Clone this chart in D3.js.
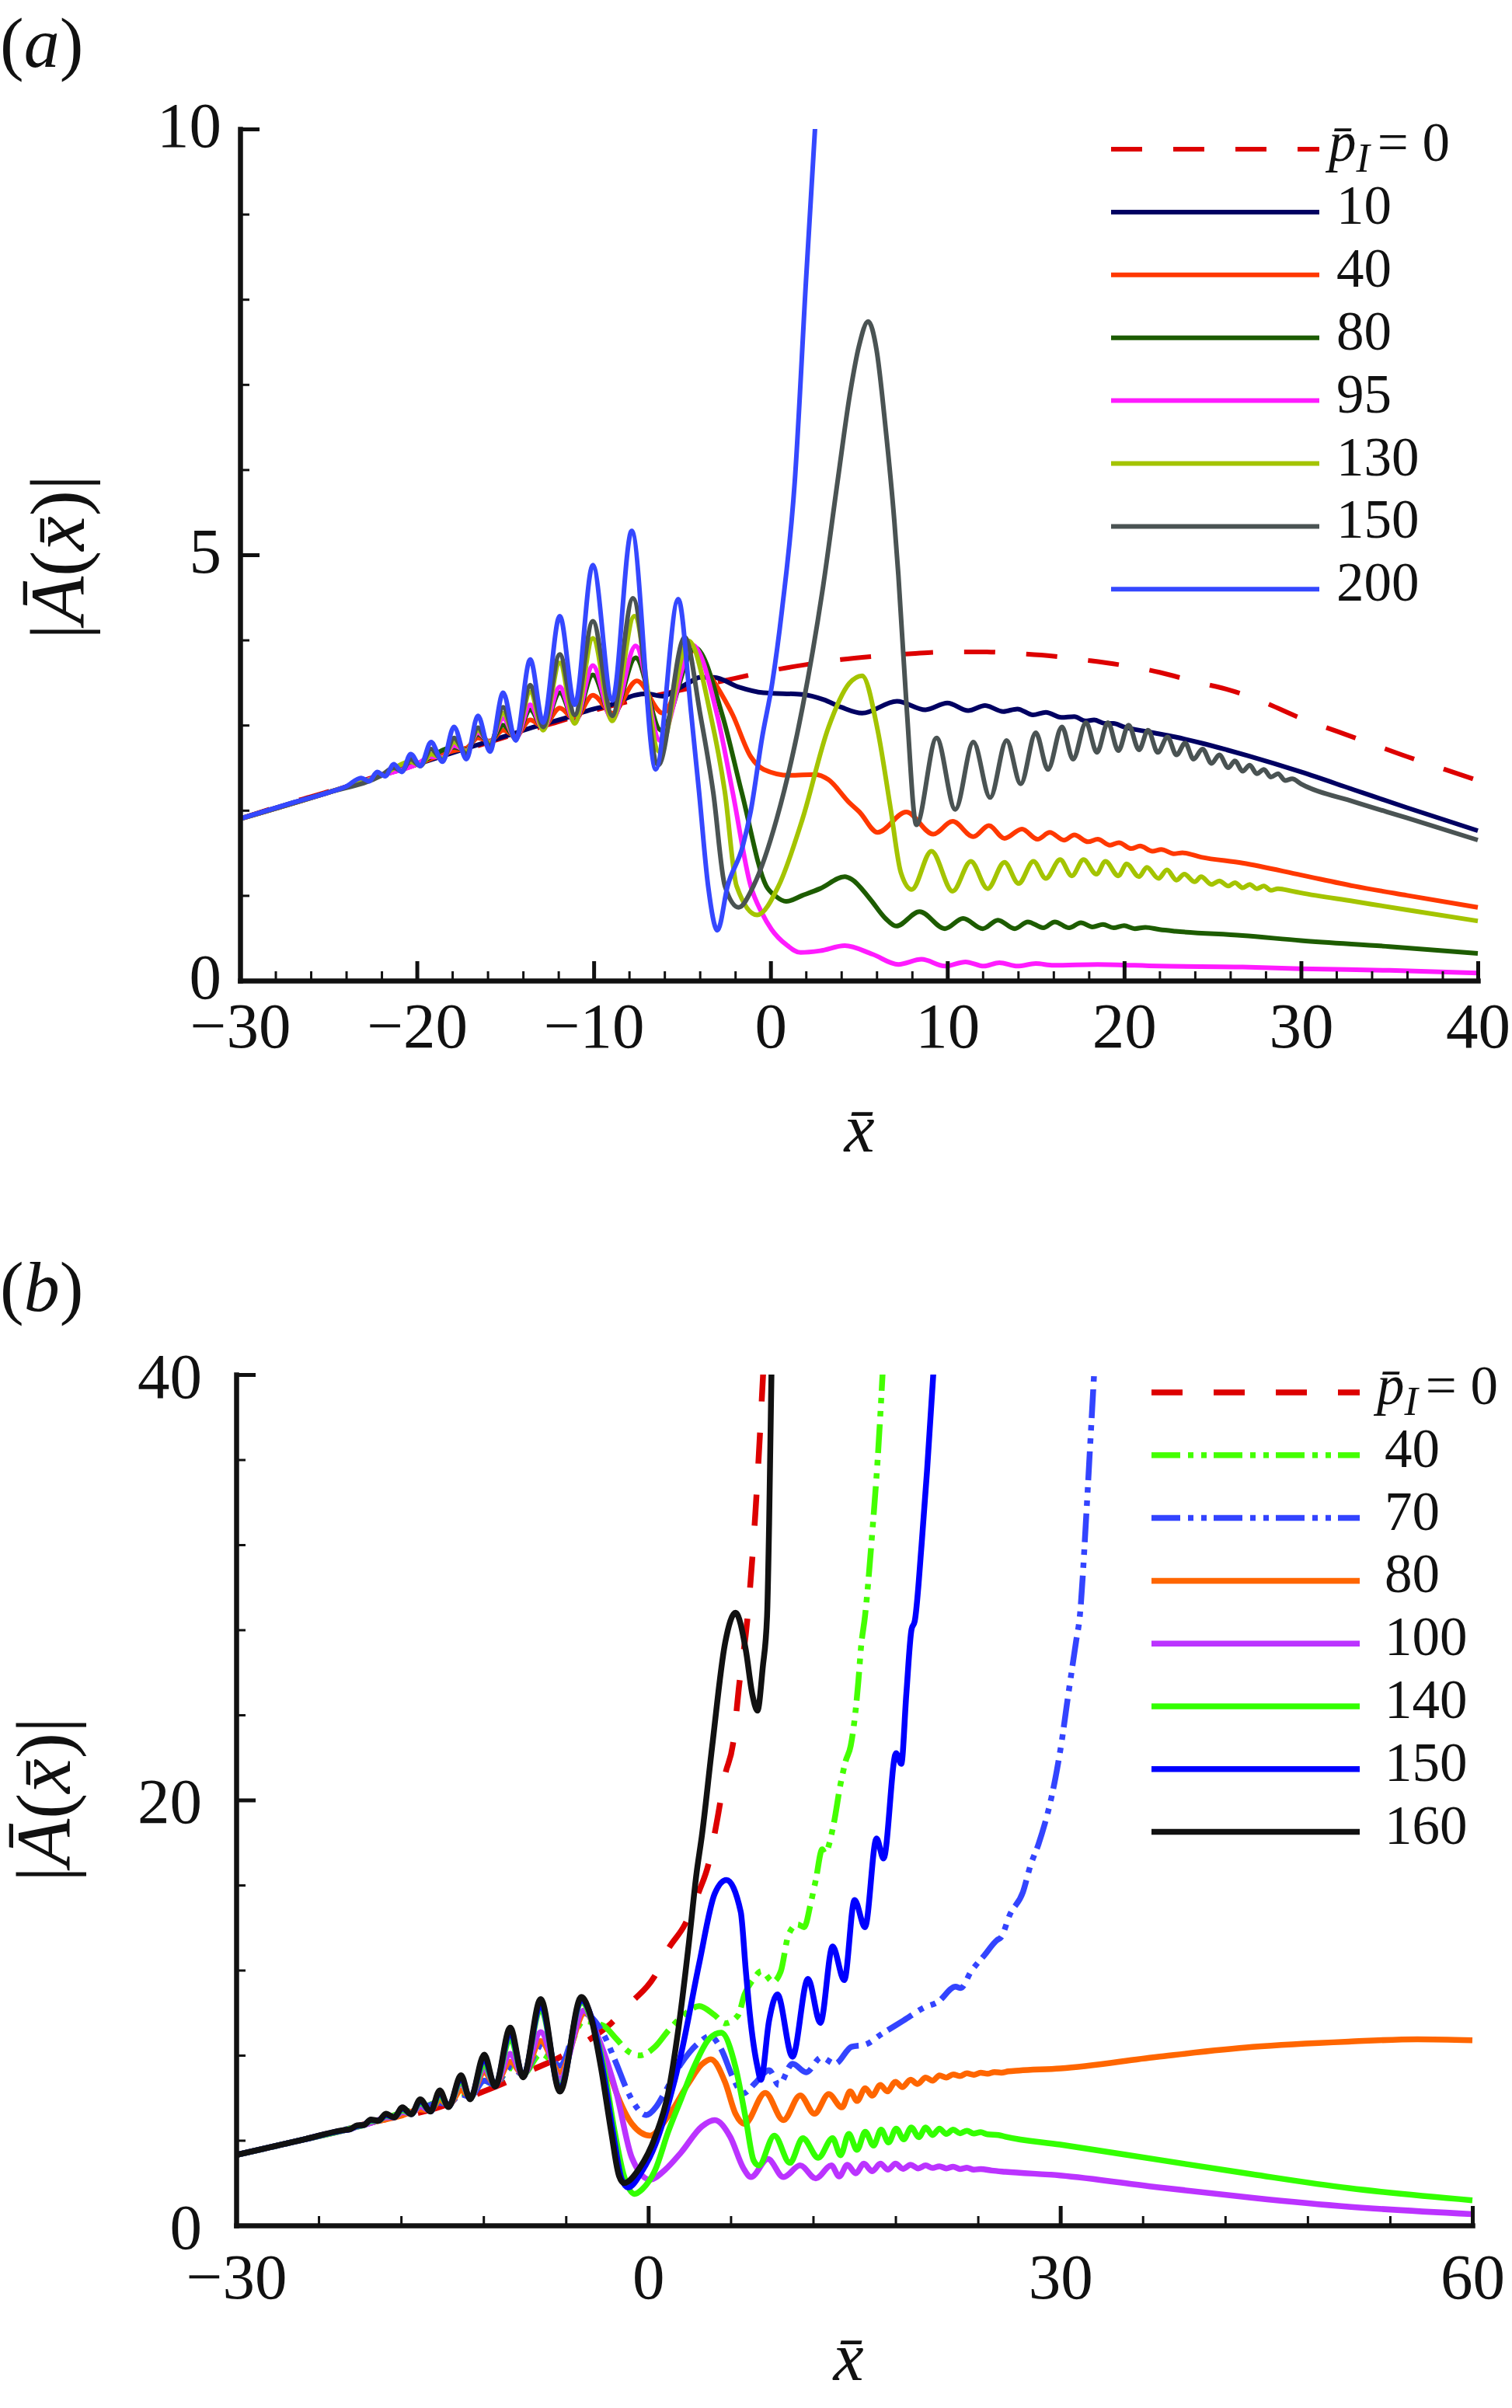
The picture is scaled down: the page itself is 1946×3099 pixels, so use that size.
<!DOCTYPE html>
<html>
<head>
<meta charset="utf-8">
<script src="https://cdn.jsdelivr.net/npm/d3@7"></script>
<style>
  body { margin: 0; background: #fff; }
  text { font-family: "Liberation Serif", "Times New Roman", serif; fill: #111; }
</style>
</head>
<body>
<script>
// ---------- panel (a) data : [x, |A|] ----------
const aP0 = [[-30,1.90],[-27,2.10],[-25,2.22],[-22,2.42],[-20,2.55],[-17,2.73],[-14,2.92],[-12,3.04],[-10,3.17],[-8,3.28],[-6,3.37],[-4,3.46],[-2,3.55],[0,3.64],[2,3.71],[4,3.77],[6,3.81],[8,3.84],[10,3.86],[12,3.86],[14,3.84],[16,3.81],[18,3.76],[20,3.70],[22,3.62],[24,3.51],[26,3.41],[28,3.26],[30,3.08],[32,2.93],[34,2.78],[36,2.63],[38,2.49],[40,2.35]];
const aP10 = [[-30,1.90],[-27,2.09],[-25,2.21],[-22,2.41],[-20,2.54],[-17,2.74],[-15,2.87],[-13.5,2.97],[-11.5,3.09],[-10,3.19],[-9,3.24],[-7.7,3.35],[-7,3.37],[-6.1,3.34],[-5.3,3.42],[-4.6,3.50],[-4.0,3.56],[-3.2,3.56],[-1.85,3.45],[-0.4,3.38],[1.8,3.36],[3.0,3.30],[4.0,3.21],[5.18,3.14],[7.15,3.28],[8.76,3.18],[10.0,3.26],[11.18,3.17],[12.13,3.23],[13.16,3.16],[13.96,3.19],[14.84,3.12],[15.57,3.15],[16.45,3.09],[17.18,3.10],[17.8,3.05],[18.3,3.06],[18.9,3.02],[19.4,3.02],[19.96,2.98],[21.4,2.92],[22.9,2.86],[24.35,2.79],[25.8,2.71],[27,2.64],[30,2.45],[33,2.24],[36,2.03],[40,1.76]];
const aP40 = [[-30,1.90],[-25,2.21],[-22,2.41],[-20,2.54],[-17.9,2.70],[-17.2,2.73],[-16.55,2.85],[-15.87,2.81],[-15.12,2.94],[-14.41,2.87],[-13.59,3.06],[-12.86,2.98],[-11.92,3.20],[-11.07,3.07],[-10.05,3.35],[-8.95,3.14],[-7.56,3.52],[-6.1,3.14],[-4.3,3.88],[-3.31,3.55],[-2.14,3.12],[-1.12,2.63],[-0.39,2.48],[1.08,2.41],[2.54,2.42],[3.27,2.36],[4.45,2.09],[5.03,1.98],[6.06,1.74],[7.67,1.98],[9.2,1.72],[10.3,1.87],[11.47,1.69],[12.35,1.82],[13.23,1.67],[14.22,1.78],[15.1,1.66],[15.79,1.74],[16.6,1.65],[17.18,1.71],[17.96,1.63],[18.5,1.66],[19.2,1.59],[19.7,1.62],[20.4,1.55],[20.9,1.58],[21.6,1.52],[22.1,1.54],[22.8,1.49],[23.3,1.50],[24.35,1.45],[26.7,1.38],[30,1.24],[33,1.11],[36,1.00],[40,0.86]];
const aP80 = [[-30,1.90],[-25,2.21],[-22,2.41],[-20,2.54],[-17.9,2.74],[-17.2,2.71],[-16.55,2.89],[-15.87,2.80],[-15.12,3.00],[-14.41,2.85],[-13.59,3.18],[-12.86,2.96],[-11.92,3.38],[-11.07,3.04],[-10.05,3.59],[-8.95,3.08],[-7.63,3.79],[-6.2,2.94],[-4.27,3.91],[-2.73,3.12],[-1.63,2.21],[-0.24,1.11],[0.3,0.99],[0.88,0.93],[1.8,1.00],[2.8,1.08],[4.2,1.22],[4.59,1.19],[5.62,0.96],[6.5,0.73],[7.11,0.64],[8.43,0.81],[9.86,0.61],[10.89,0.73],[12.0,0.61],[12.86,0.71],[13.81,0.61],[14.55,0.69],[15.43,0.62],[16.08,0.69],[16.89,0.62],[17.55,0.68],[18.2,0.63],[18.8,0.66],[19.4,0.62],[20.0,0.645],[20.6,0.61],[21.2,0.625],[22,0.60],[22.9,0.58],[26.7,0.53],[30,0.47],[35,0.40],[40,0.32]];
const aP95 = [[-30,1.90],[-25,2.21],[-22,2.41],[-20,2.54],[-19.2,2.63],[-18.55,2.62],[-17.9,2.76],[-17.2,2.70],[-16.55,2.91],[-15.87,2.80],[-15.12,3.08],[-14.41,2.84],[-13.59,3.24],[-12.86,2.95],[-11.92,3.45],[-11.07,3.03],[-10.05,3.70],[-8.95,3.06],[-7.63,3.93],[-6.25,2.82],[-4.41,3.94],[-3.02,3.12],[-2.14,2.21],[-1.12,1.11],[-0.5,0.80],[0.06,0.60],[0.9,0.42],[1.7,0.33],[2.8,0.35],[4.2,0.41],[5.76,0.31],[7.23,0.19],[8.54,0.25],[9.86,0.17],[11.03,0.22],[12.06,0.17],[12.94,0.21],[13.96,0.17],[15.0,0.20],[16.0,0.18],[18.5,0.19],[22,0.17],[26.7,0.16],[30,0.14],[35,0.12],[40,0.09]];
const aP130 = [[-30,1.90],[-25,2.21],[-22,2.41],[-20.35,2.57],[-19.8,2.53],[-19.2,2.66],[-18.55,2.61],[-17.9,2.80],[-17.2,2.69],[-16.55,2.94],[-15.87,2.79],[-15.12,3.14],[-14.41,2.84],[-13.59,3.39],[-12.86,2.94],[-11.92,3.73],[-11.07,3.02],[-10.05,4.02],[-8.95,3.05],[-7.70,4.28],[-6.3,2.69],[-4.63,3.99],[-3.39,3.12],[-2.58,2.21],[-1.92,1.11],[-0.76,0.77],[0.45,1.11],[1.81,1.90],[3.27,2.97],[4.45,3.49],[5.18,3.58],[6.06,2.94],[6.79,2.02],[7.37,1.27],[7.99,1.07],[9.1,1.52],[10.3,1.05],[11.33,1.40],[12.28,1.08],[13.23,1.39],[14.03,1.14],[14.87,1.40],[15.57,1.20],[16.38,1.42],[17.04,1.23],[17.7,1.42],[18.43,1.25],[18.94,1.40],[19.67,1.23],[20.14,1.37],[20.84,1.22],[21.28,1.33],[21.94,1.20],[22.42,1.30],[22.96,1.18],[23.4,1.25],[23.99,1.16],[24.35,1.22],[24.94,1.13],[25.38,1.17],[25.89,1.11],[26.26,1.15],[26.7,1.09],[27.1,1.13],[27.5,1.08],[27.9,1.11],[28.3,1.06],[28.7,1.08],[29.5,1.05],[30,1.03],[33,0.93],[36,0.83],[40,0.70]];
const aP150 = [[-30,1.90],[-25,2.21],[-22,2.41],[-21.3,2.50],[-20.85,2.46],[-20.35,2.60],[-19.8,2.52],[-19.2,2.72],[-18.55,2.59],[-17.9,2.85],[-17.2,2.66],[-16.55,2.97],[-15.87,2.76],[-15.12,3.21],[-14.41,2.83],[-13.59,3.47],[-12.86,2.98],[-11.92,3.83],[-11.07,3.12],[-10.05,4.22],[-8.95,3.11],[-7.78,4.49],[-6.35,2.53],[-4.85,4.03],[-3.97,3.12],[-3.24,2.21],[-2.58,1.11],[-1.8,0.86],[-0.97,1.11],[0.35,1.90],[1.81,3.21],[2.98,4.64],[3.79,5.86],[4.5,6.9],[5.0,7.45],[5.52,7.74],[6.0,7.4],[6.5,6.5],[7.0,5.4],[7.23,4.76],[7.7,3.2],[8.25,1.83],[9.39,2.85],[10.45,2.01],[11.47,2.80],[12.42,2.15],[13.35,2.82],[14.15,2.31],[15.0,2.91],[15.69,2.48],[16.48,2.98],[17.11,2.60],[17.84,3.03],[18.46,2.68],[19.08,3.03],[19.67,2.70],[20.25,3.00],[20.84,2.71],[21.35,2.94],[21.9,2.68],[22.45,2.86],[22.96,2.65],[23.45,2.79],[23.92,2.60],[24.43,2.72],[24.94,2.55],[25.38,2.65],[25.89,2.50],[26.26,2.58],[26.7,2.46],[27.1,2.53],[27.5,2.43],[27.9,2.48],[28.3,2.39],[28.7,2.43],[29.1,2.35],[29.5,2.37],[30,2.31],[33,2.10],[36,1.91],[40,1.65]];
const aP200 = [[-30,1.90],[-27,2.09],[-25,2.21],[-24,2.28],[-23.15,2.38],[-22.7,2.34],[-22.25,2.45],[-21.8,2.40],[-21.3,2.54],[-20.85,2.45],[-20.35,2.66],[-19.8,2.52],[-19.2,2.80],[-18.55,2.57],[-17.9,2.98],[-17.2,2.60],[-16.55,3.11],[-15.87,2.69],[-15.12,3.38],[-14.41,2.82],[-13.59,3.77],[-12.86,3.03],[-11.92,4.28],[-11.07,3.24],[-10.05,4.88],[-8.95,3.29],[-7.85,5.28],[-6.49,2.48],[-5.22,4.48],[-4.48,3.12],[-4.04,2.21],[-3.53,1.11],[-3.0,0.59],[-2.43,1.11],[-1.57,1.58],[-1.12,1.99],[-0.48,2.85],[0.1,3.5],[0.64,4.34],[1.37,5.86],[2.0,8.2],[2.6,10.3]];
const aLabels = ["0", "10", "40", "80", "95", "130", "150", "200"];

// ---------- panel (b) data ----------
const bP0 = [[-30,3.31],[-25,4.05],[-20,4.86],[-15.5,5.50],[-13.8,5.87],[-12.5,6.17],[-10.6,6.66],[-8.4,7.33],[-6.6,7.85],[-4.6,8.6],[-2.7,9.5],[-1.2,10.5],[0.4,11.65],[1.45,12.99],[2.67,14.15],[3.71,15.73],[4.37,16.95],[5.0,19.0],[5.6,21.2],[6.16,22.6],[6.63,25.47],[7.2,28.4],[7.8,33.5],[8.4,40.5]];
const bP40 = [[-30,3.31],[-25,4.05],[-20,4.86],[-17.9,5.3],[-16.6,5.5],[-15.18,5.8],[-14.54,5.75],[-13.63,6.2],[-12.97,6.1],[-11.94,6.8],[-11.15,6.6],[-10.05,7.4],[-9.11,7.1],[-7.83,8.06],[-6.43,7.5],[-4.7,9.6],[-3.3,9.4],[-2.3,8.75],[-1.5,8.2],[-0.63,7.99],[0.5,8.4],[1.45,9.15],[2.6,9.9],[3.71,10.31],[4.84,9.88],[5.6,9.5],[6.54,9.88],[7.01,10.86],[7.67,11.59],[8.24,11.95],[9.08,11.46],[9.65,11.95],[10.21,13.66],[10.87,14.15],[11.35,14.02],[11.82,15.12],[12.19,16.22],[12.67,17.68],[12.85,17.5],[13.51,18.9],[13.99,20.72],[14.36,21.8],[14.74,22.55],[15.02,23.77],[15.3,25.6],[15.49,27.18],[15.78,28.64],[16.3,32.5],[16.7,36],[17.1,40.5]];
const bP70 = [[-30,3.31],[-25,4.05],[-20,4.86],[-17.9,5.25],[-16.6,5.5],[-15.18,5.75],[-14.54,5.72],[-13.63,6.15],[-12.97,6.05],[-11.94,6.8],[-11.15,6.6],[-10.05,7.45],[-9.11,7.1],[-7.83,8.42],[-6.43,7.5],[-4.8,10.0],[-3.27,9.0],[-2.32,7.6],[-1.57,6.4],[-0.9,5.6],[-0.15,5.19],[0.6,5.6],[1.07,6.1],[2.39,7.6],[3.71,8.6],[4.5,8.9],[5.3,8.3],[6.2,6.9],[6.9,6.2],[7.8,6.7],[8.8,7.3],[9.5,6.6],[10.5,7.6],[11.5,7.2],[12.6,7.9],[13.6,7.6],[14.8,8.4],[15.8,8.5],[17.0,9.0],[18.6,9.64],[20.11,10.25],[21.06,10.49],[22.38,11.22],[22.75,11.16],[23.51,11.95],[24.45,12.68],[25.39,13.41],[25.68,13.54],[26.34,14.63],[27.28,15.67],[27.84,16.95],[28.41,17.92],[28.88,18.9],[29.35,20.11],[29.73,21.33],[30.11,22.79],[30.48,24.5],[30.86,26.2],[31.14,27.42],[31.42,28.64],[31.9,33.5],[32.2,37],[32.5,40.5]];
const bP80 = [[-30,3.31],[-25,4.05],[-22,4.50],[-20,4.86],[-18,5.15],[-16.6,5.45],[-15.85,5.42],[-15.18,5.9],[-14.54,5.65],[-13.63,6.35],[-12.97,6.05],[-11.94,7.2],[-11.15,6.62],[-10.05,7.69],[-9.11,7.1],[-7.83,8.67],[-6.43,7.2],[-4.6,10.0],[-3.27,8.06],[-2.32,6.23],[-1.19,4.77],[0.13,4.22],[1.45,5.13],[2.96,6.72],[3.9,7.57],[4.56,7.81],[5.6,6.72],[6.35,5.25],[7.01,4.77],[8.52,6.23],[9.84,4.95],[11.06,6.11],[12.1,5.25],[13.14,6.17],[14.1,5.55],[14.7,6.3],[15.2,5.85],[15.8,6.45],[16.3,6.1],[16.9,6.6],[17.4,6.3],[18.0,6.75],[18.5,6.5],[19.1,6.85],[19.6,6.65],[20.2,6.95],[20.7,6.8],[21.2,7.05],[21.7,6.95],[22.2,7.1],[22.7,7.02],[23.2,7.15],[23.7,7.08],[24.2,7.18],[24.7,7.13],[25.2,7.21],[25.7,7.18],[26.2,7.24],[27,7.28],[30,7.38],[37,7.92],[44,8.39],[51,8.64],[56,8.75],[60,8.7]];
const bP100 = [[-30,3.31],[-25,4.05],[-22,4.50],[-20,4.86],[-19.1,5.08],[-18.5,5.1],[-17.9,5.32],[-17.25,5.27],[-16.6,5.6],[-15.85,5.4],[-15.18,6.2],[-14.54,5.62],[-13.63,6.7],[-12.97,6.0],[-11.94,7.4],[-11.15,6.6],[-10.05,8.06],[-9.11,7.05],[-7.83,9.09],[-6.43,6.9],[-4.7,10.1],[-3.5,8.6],[-2.32,6.23],[-1.19,3.18],[0.13,2.15],[1.2,2.6],[2.39,3.43],[3.9,4.65],[4.84,4.95],[5.97,4.16],[6.92,2.70],[7.48,2.27],[8.71,3.12],[9.84,2.27],[11.06,2.82],[12.2,2.21],[13.33,2.82],[13.9,2.3],[14.5,2.85],[15.1,2.45],[15.7,2.9],[16.3,2.55],[16.9,2.9],[17.45,2.62],[18.0,2.9],[18.55,2.66],[19.1,2.85],[19.65,2.68],[20.2,2.82],[20.7,2.7],[21.2,2.78],[21.7,2.68],[22.2,2.76],[22.7,2.65],[23.2,2.71],[23.7,2.62],[24.2,2.65],[25,2.58],[26,2.52],[30,2.35],[37,1.8],[44,1.3],[51,0.88],[60,0.53]];
const bP140 = [[-30,3.31],[-25,4.05],[-22,4.50],[-21.2,4.64],[-20.7,4.72],[-20.2,4.9],[-19.65,4.92],[-19.1,5.15],[-18.5,5.1],[-17.9,5.42],[-17.25,5.25],[-16.6,5.75],[-15.85,5.38],[-15.18,6.1],[-14.54,5.6],[-13.63,6.8],[-12.97,5.97],[-11.94,7.6],[-11.15,6.57],[-10.05,8.8],[-9.11,7.02],[-7.83,10.2],[-6.43,6.5],[-4.87,10.5],[-4.0,9.4],[-3.2,7.3],[-2.5,4.6],[-1.8,2.4],[-1.0,1.48],[-0.44,1.7],[0.5,2.6],[1.45,4.40],[2.4,5.95],[3.33,7.45],[4.46,8.79],[5.31,9.06],[6.35,7.45],[7.1,5.01],[7.67,3.06],[8.05,2.82],[9.18,4.22],[10.31,2.94],[11.25,4.10],[12.38,3.18],[13.42,4.10],[14.0,3.3],[14.6,4.3],[15.2,3.55],[15.8,4.4],[16.4,3.75],[16.95,4.5],[17.5,3.9],[18.05,4.55],[18.6,4.05],[19.15,4.6],[19.7,4.15],[20.2,4.6],[20.7,4.25],[21.2,4.55],[21.7,4.3],[22.2,4.5],[22.7,4.33],[23.2,4.45],[23.7,4.32],[24.2,4.38],[24.7,4.28],[25.5,4.25],[26,4.17],[30,3.8],[37,3.1],[44,2.4],[51,1.75],[60,1.18]];
const bP150 = [[-30,3.31],[-25,4.05],[-22.2,4.47],[-21.7,4.52],[-21.2,4.67],[-20.7,4.72],[-20.2,4.95],[-19.65,4.92],[-19.1,5.2],[-18.5,5.08],[-17.9,5.5],[-17.25,5.23],[-16.6,5.85],[-15.85,5.36],[-15.18,6.25],[-14.54,5.58],[-13.63,6.95],[-12.97,5.95],[-11.94,7.85],[-11.15,6.55],[-10.05,9.1],[-9.11,7.0],[-7.83,10.4],[-6.43,6.4],[-4.87,10.6],[-4.1,9.7],[-3.3,7.3],[-2.55,4.3],[-1.95,2.2],[-1.47,1.78],[-0.5,2.5],[0.51,3.79],[1.5,5.8],[2.39,8.06],[3.71,12.32],[4.84,15.6],[5.69,16.24],[6.73,14.75],[7.1,12.0],[7.4,9.9],[7.95,7.45],[8.2,6.84],[8.8,9.64],[9.4,10.86],[10.5,7.93],[11.63,11.59],[12.53,9.52],[13.42,13.11],[14.27,11.53],[15.02,15.30],[15.78,14.02],[16.62,18.19],[17.13,17.25],[18.04,22.2],[18.42,21.7],[18.79,24.99],[19.17,28.03],[19.4,28.4],[19.9,32],[20.3,35.5],[20.8,40.5]];
const bP160 = [[-30,3.31],[-25,4.05],[-22.2,4.48],[-21.7,4.52],[-21.2,4.70],[-20.7,4.72],[-20.2,4.98],[-19.65,4.92],[-19.1,5.25],[-18.5,5.08],[-17.9,5.55],[-17.25,5.22],[-16.6,5.93],[-15.85,5.35],[-15.18,6.35],[-14.54,5.56],[-13.63,7.06],[-12.97,5.93],[-11.94,8.03],[-11.15,6.53],[-10.05,9.30],[-9.11,6.96],[-7.83,10.64],[-6.43,6.29],[-4.87,10.74],[-4.21,9.88],[-3.45,7.45],[-2.7,4.40],[-2.13,2.33],[-1.76,1.99],[-0.63,2.70],[0.5,4.16],[1.45,6.23],[2.2,9.27],[2.96,13.29],[3.52,16.58],[3.9,18.3],[4.65,22.5],[5.6,27.4],[6.35,28.8],[7.1,27.06],[7.57,24.99],[7.95,24.2],[8.33,26.2],[8.65,28.64],[8.8,33],[8.98,40.5]];
const bLabels = ["0", "40", "70", "80", "100", "140", "150", "160"];

// tick values
const aXMajor = [-30, -20, -10, 0, 10, 20, 30, 40];
const aXMinor = [-28,-26,-24,-22,-18,-16,-14,-12,-8,-6,-4,-2,2,4,6,8,12,14,16,18,22,24,26,28,32,34,36,38];
const aYMajor = [0, 5, 10];
const aYMinor = [1, 2, 3, 4, 6, 7, 8, 9];
const bXMajor = [-30, 0, 30, 60];
const bXMinor = [-24, -18, -12, -6, 6, 12, 18, 24, 36, 42, 48, 54];
const bYMajor = [0, 20, 40];
const bYMinor = [4, 8, 12, 16, 24, 28, 32, 36];

// styles
const aColors = ["#dd0000", "#000062", "#ff3800", "#1d5c00", "#ff1bff", "#a4c400", "#4a5353", "#3548ff"];
const bColors = ["#dd0000", "#44ff00", "#3344ff", "#ff6600", "#bb33ff", "#33ff00", "#0000ff", "#111111"];
const dashDotDot = "37,10,7,10,7,9";
const aDash = ["40,40", null, null, null, null, null, null, null];
const bDash = ["40,40", dashDotDot, dashDotDot, null, null, null, null, null];

let svg = d3.select("body").append("svg")
  .attr("width", 1946).attr("height", 3099)
  .style("display", "block");

let drawPanel = p => {
  let x = d3.scaleLinear().domain(p.xDomain).range(p.xRange);
  let y = d3.scaleLinear().domain(p.yDomain).range(p.yRange);
  let g = svg.append("g");

  // clip the curves to the frame
  g.append("clipPath").attr("id", "clip-" + p.name)
    .append("rect")
    .attr("x", p.xRange[0]).attr("y", p.yRange[1])
    .attr("width", p.xRange[1] - p.xRange[0] + 10)
    .attr("height", p.yRange[0] - p.yRange[1]);

  let line = d3.line()
    .x(d => x(d[0]))
    .y(d => y(d[1]))
    .curve(d3.curveMonotoneX);

  let plot = g.append("g").attr("clip-path", "url(#clip-" + p.name + ")");
  p.series.forEach((s, i) => {
    plot.append("path")
      .attr("d", line(s))
      .attr("fill", "none")
      .attr("stroke", p.colors[i])
      .attr("stroke-width", p.lw)
      .attr("stroke-dasharray", p.dash[i])
      .attr("stroke-linejoin", "round");
  });

  // axes: major ticks with labels, minor ticks without
  let gx = g.append("g")
    .attr("transform", "translate(0," + p.yRange[0] + ")")
    .call(d3.axisBottom(x).tickValues(p.xMajor).tickSizeInner(-25).tickSizeOuter(0)
      .tickPadding(p.xPad).tickFormat(d3.format("d")));
  let gxm = g.append("g")
    .attr("transform", "translate(0," + p.yRange[0] + ")")
    .call(d3.axisBottom(x).tickValues(p.xMinor).tickSize(-12).tickFormat(""));
  let gy = g.append("g")
    .attr("transform", "translate(" + p.xRange[0] + ",0)")
    .call(d3.axisLeft(y).tickValues(p.yMajor).tickSizeInner(-25).tickSizeOuter(0)
      .tickPadding(p.yPad).tickFormat(d3.format("d")));
  let gym = g.append("g")
    .attr("transform", "translate(" + p.xRange[0] + ",0)")
    .call(d3.axisLeft(y).tickValues(p.yMinor).tickSize(-12).tickFormat(""));

  gxm.select(".domain").remove();
  gym.select(".domain").remove();
  [gx, gy].forEach(a => {
    a.select(".domain").attr("stroke", "#111").attr("stroke-width", 6.5).attr("stroke-linecap", "square");
    a.selectAll(".tick line").attr("stroke", "#111").attr("stroke-width", 5);
    a.selectAll("text")
      .attr("font-family", "Liberation Serif")
      .attr("font-size", 83)
      .attr("fill", "#111");
  });
  gy.selectAll("text").attr("dy", p.yDy);
  [gxm, gym].forEach(a => a.selectAll(".tick line").attr("stroke", "#111").attr("stroke-width", 3));

  // axis titles
  g.append("text")
    .attr("x", p.xTitle[0]).attr("y", p.xTitle[1])
    .attr("text-anchor", "middle").attr("font-size", 88).attr("font-style", "italic")
    .text("x\u0304");

  let yt = g.append("text")
    .attr("transform", "translate(" + p.yTitle[0] + "," + p.yTitle[1] + ") rotate(-90)")
    .attr("text-anchor", "middle").attr("font-size", 100);
  yt.append("tspan").text("|");
  yt.append("tspan").attr("font-style", "italic").text("\u0100");
  yt.append("tspan").text("(");
  yt.append("tspan").attr("font-style", "italic").text("x\u0304");
  yt.append("tspan").text(")|");

  let pl = g.append("text")
    .attr("x", 0).attr("y", p.tag[1]).attr("font-size", 92);
  pl.append("tspan").text("(");
  pl.append("tspan").attr("font-style", "italic").text(p.tag[0]);
  pl.append("tspan").text(")");

  // legend
  let lg = g.append("g");
  p.labels.forEach((lab, i) => {
    let ly = p.legend.y0 + i * p.legend.dy;
    lg.append("line")
      .attr("x1", p.legend.x0).attr("x2", p.legend.x1)
      .attr("y1", ly).attr("y2", ly)
      .attr("stroke", p.colors[i])
      .attr("stroke-width", p.lw)
      .attr("stroke-dasharray", p.dash[i]);
    let t = lg.append("text")
      .attr("x", i === 0 ? p.legend.tx - 10 : p.legend.tx).attr("y", ly + 15)
      .attr("font-size", 71);
    if (i === 0) {
      t.append("tspan").attr("font-style", "italic").text("p\u0304");
      t.append("tspan").attr("font-style", "italic").attr("font-size", 52).attr("dy", 14).text("I");
      t.append("tspan").attr("dy", -14).attr("dx", 10).text("= " + lab);
    } else {
      t.text(lab);
    }
  });
};

drawPanel({
  name: "a",
  xDomain: [-30, 40], xRange: [309, 1902],
  yDomain: [0, 10], yRange: [1262, 166],
  series: [aP0, aP10, aP40, aP80, aP95, aP130, aP150, aP200],
  colors: aColors, dash: aDash, lw: 6,
  xMajor: aXMajor, xMinor: aXMinor, yMajor: aYMajor, yMinor: aYMinor,
  xPad: 27, yPad: 24, yDy: "0.27em",
  xTitle: [1106, 1482], yTitle: [108, 717], tag: ["a", 86],
  labels: aLabels,
  legend: {x0: 1430, x1: 1698, tx: 1720, y0: 192, dy: 80.9}
});

drawPanel({
  name: "b",
  xDomain: [-30, 60], xRange: [304, 1895],
  yDomain: [0, 40], yRange: [2864, 1769],
  series: [bP0, bP40, bP70, bP80, bP100, bP140, bP150, bP160],
  colors: bColors, dash: bDash, lw: 7.5,
  xMajor: bXMajor, xMinor: bXMinor, yMajor: bYMajor, yMinor: bYMinor,
  xPad: 35, yPad: 44, yDy: "0.35em",
  xTitle: [1092, 3063], yTitle: [90, 2316], tag: ["b", 1687],
  labels: bLabels,
  legend: {x0: 1482, x1: 1750, tx: 1782, y0: 1792, dy: 80.8}
});
</script>
</body>
</html>
